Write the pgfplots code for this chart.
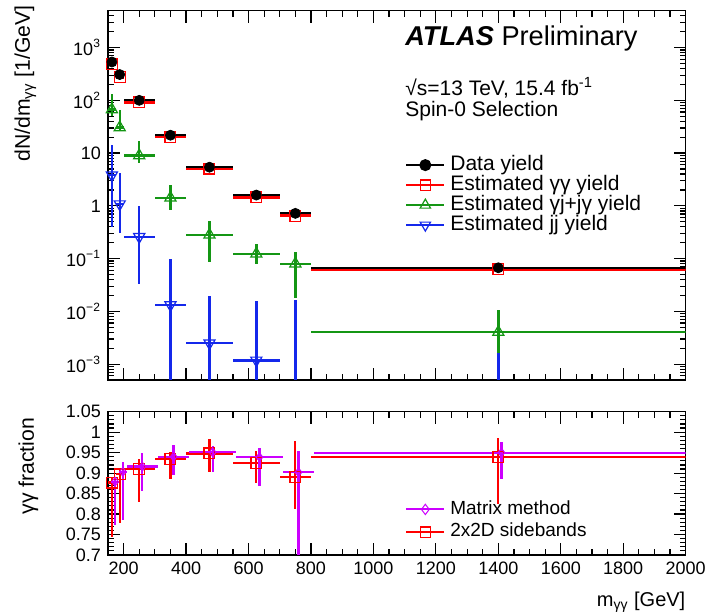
\documentclass[border=0pt]{standalone}
\usepackage{fontspec}
\setmainfont{Liberation Sans}
\usepackage{pgfplots}
\usepackage{pgfplotstable}
\pgfplotsset{compat=1.18}
\definecolor{rred}{RGB}{255,0,0}
\definecolor{rgreen}{RGB}{20,150,20}
\definecolor{rblue}{RGB}{20,40,235}
\definecolor{rmag}{RGB}{204,0,255}

% columns: bin centre, half width, value, error up, error down
\pgfplotstableread{
x ex y ep em
162.5 12.5 533 6 6
187.5 12.5 308 5 5
250 50 100 1.5 1.5
350 50 21.8 0.6 0.6
475 75 5.4 0.2 0.2
625 75 1.6 0.1 0.1
750 50 0.72 0.07 0.07
1400 600 0.067 0.006 0.006
}\datatab
\pgfplotstableread{
x ex y ep em
162.5 12.5 480 10 10
187.5 12.5 277 8 8
250 50 91 3 3
350 50 20.4 0.8 0.8
475 75 5.1 0.3 0.3
625 75 1.48 0.1 0.1
750 50 0.65 0.06 0.06
1400 600 0.063 0.006 0.006
}\gamgamtab
\pgfplotstableread{
x ex y ep em
162.5 12.5 67 63 17
187.5 12.5 30.5 34.5 4
250 50 9.0 8.0 2.5
350 50 1.42 1.05 0.59
475 75 0.282 0.238 0.197
625 75 0.123 0.065 0.0443
750 50 0.080 0.051 0.062
1400 600 0.00405 0.00655 0.00245
}\gamjtab
\pgfplotstableread{
x ex y ep em
162.5 12.5 3.8 10.7 3.4
187.5 12.5 1.08 3.12 0.78
250 50 0.259 0.741 0.2265
350 50 0.0132 0.0868 0.01319
475 75 0.0025 0.0172 0.00249
625 75 0.00118 0.01452 0.00117
750 50 0.00001 0.01639 0
1400 600 0.00001 0.00159 0
}\jjtab
\pgfplotstableread{
x ex y ep em
162.5 12.5 0.877 0.012 0.132
187.5 12.5 0.897 0.011 0.120
250 50 0.910 0.024 0.081
350 50 0.935 0.017 0.050
475 75 0.948 0.035 0.046
625 75 0.924 0.031 0.047
750 50 0.891 0.087 0.079
1400 600 0.940 0.046 0.115
}\sidetab
\pgfplotstableread{
x ex y ep em
172.5 12.5 0.879 0.012 0.106
197.5 12.5 0.903 0.023 0.118
260 50 0.916 0.032 0.059
360 50 0.940 0.029 0.045
485 75 0.951 0.015 0.048
635 75 0.939 0.022 0.071
760 50 0.902 0.053 0.300
1410 600 0.950 0.025 0.065
}\matrixtab

\pgfplotsset{
  rootaxis/.style={
    scale only axis,
    width=288.85pt,
    xmin=150, xmax=2000,
    xtick={200,400,...,2000},
    minor x tick num=3,
    tick align=inside,
    xtick pos=both, ytick pos=both,
    major tick length=6pt, minor tick length=3pt,
    axis line style={line width=0.8pt},
    every tick/.style={black, line width=0.6pt},
    tick label style={font=\fontsize{9}{9}\selectfont},
    label style={font=\fontsize{10.6}{10.6}\selectfont},
    legend image code/.code={\draw[mark repeat=2,mark phase=2] plot coordinates {(0pt,0pt)(9.5pt,0pt)(19pt,0pt)};},
  },
  binpts/.style={
    only marks,
    error bars/x dir=both, error bars/y dir=both,
    error bars/x explicit, error bars/y explicit,
    error bars/error mark=none,
  },
}

\begin{document}
\begin{tikzpicture}
\path[use as bounding box] (-54pt,-117pt) rectangle (300.5pt,190pt);

\begin{axis}[rootaxis,
  name=top, at={(0pt,0pt)}, anchor=south west,
  height=184.65pt,
  ymode=log, ymin=5e-4, ymax=5000,
  ytick={1e-3,1e-2,1e-1,1,10,100,1000},
  yticklabels={10\textsuperscript{−3},10\textsuperscript{−2},10\textsuperscript{−1},1,10,10\textsuperscript{2},10\textsuperscript{3}},
  minor ytick={6e-4,7e-4,8e-4,9e-4,2e-3,3e-3,4e-3,5e-3,6e-3,7e-3,8e-3,9e-3,
    2e-2,3e-2,4e-2,5e-2,6e-2,7e-2,8e-2,9e-2,0.2,0.3,0.4,0.5,0.6,0.7,0.8,0.9,
    2,3,4,5,6,7,8,9,20,30,40,50,60,70,80,90,200,300,400,500,600,700,800,900,2000,3000,4000,5000},
  xticklabels={},
  ylabel={dN/dm\textsubscript{γγ} [1/GeV]},
  ylabel style={at={(axis description cs:-0.143,1.015)}, anchor=east, inner sep=0pt},
  legend style={at={(axis description cs:0.514,0.610)}, anchor=north west,
    draw=none, fill=none, inner sep=0pt,
    font=\fontsize{10.5}{10.5}\selectfont,
    nodes={inner xsep=2.5pt, inner ysep=0.5pt, text height=7pt, text depth=2pt},
    cells={anchor=west}},
]
\addlegendimage{black, line width=1pt, mark=*, mark size=2.5pt}
\addlegendentry{Data yield}
\addlegendimage{rred, line width=1pt, mark=square, mark size=2.6pt, mark options={fill=white, line width=0.6pt}}
\addlegendentry{Estimated γγ yield}
\addlegendimage{rgreen, line width=1pt, mark=triangle, mark size=3pt, mark options={fill=white, line width=0.6pt}}
\addlegendentry{Estimated γj+jγ yield}
\addlegendimage{rblue, line width=1pt, mark=triangle, mark size=3pt, mark options={rotate=180, fill=white, line width=0.6pt}}
\addlegendentry{Estimated jj yield}

\addplot+[forget plot, rblue, binpts, mark=triangle, mark size=3.2pt,
  mark options={rotate=180, fill=white, line width=0.6pt},
  error bars/error bar style={rblue, line width=1.2pt}]
  table[x=x, y=y, x error=ex, y error plus=ep, y error minus=em] {\jjtab};
\addplot+[forget plot, rgreen, binpts, mark=triangle, mark size=3.2pt,
  mark options={fill=white, line width=0.6pt},
  error bars/error bar style={rgreen, line width=1.2pt}]
  table[x=x, y=y, x error=ex, y error plus=ep, y error minus=em] {\gamjtab};
\addplot+[forget plot, rred, binpts, mark=square, mark size=2.7pt,
  mark options={fill=white, line width=0.6pt},
  error bars/error bar style={rred, line width=1.7pt}]
  table[x=x, y=y, x error=ex, y error plus=ep, y error minus=em] {\gamgamtab};
\addplot+[forget plot, black, binpts, mark=*, mark size=2.5pt,
  mark options={fill=black},
  error bars/error bar style={black, line width=0.9pt}]
  table[x=x, y=y, x error=ex, y error plus=ep, y error minus=em] {\datatab};

\node[anchor=west, inner sep=0pt, font=\fontsize{13.6}{13.6}\selectfont]
  at (axis description cs:0.514,0.925) {\textbf{\textit{ATLAS}} Preliminary};
\node[anchor=west, inner sep=0pt, font=\fontsize{10.5}{10.5}\selectfont]
  at (axis description cs:0.514,0.792) {√s=13 TeV, 15.4 fb\textsuperscript{-1}};
\node[anchor=west, inner sep=0pt, font=\fontsize{10.5}{10.5}\selectfont]
  at (axis description cs:0.514,0.728) {Spin-0 Selection};
\end{axis}

\begin{axis}[rootaxis,
  name=bot, at={(0pt,-15.85pt)}, anchor=north west,
  height=71.65pt,
  ymin=0.7, ymax=1.05,
  ytick={0.7,0.75,0.8,0.85,0.9,0.95,1,1.05},
  yticklabels={0.7,0.75,0.8,0.85,0.9,0.95,1,1.05},
  minor y tick num=4,
  xticklabels={200,400,600,800,1000,1200,1400,1600,1800,2000},
  ylabel={γγ fraction},
  ylabel style={at={(axis description cs:-0.138,0.96)}, anchor=east, inner sep=0pt},
  xlabel={m\textsubscript{γγ} [GeV]},
  xlabel style={at={(axis description cs:1,0)}, anchor=north east, inner sep=0pt, yshift=-18.5pt, font=\fontsize{10}{10}\selectfont},
  legend style={at={(axis description cs:0.514,0.40)}, anchor=north west,
    draw=none, fill=none, inner sep=0pt,
    font=\fontsize{9.5}{9.5}\selectfont,
    nodes={inner xsep=2.5pt, inner ysep=0.5pt, text height=7.5pt, text depth=2.85pt},
    cells={anchor=west}},
]
\addlegendimage{rmag, line width=1pt, mark=diamond, mark size=2.6pt, mark options={fill=white, line width=0.5pt}}
\addlegendentry{Matrix method}
\addlegendimage{rred, line width=1pt, mark=square, mark size=2.6pt, mark options={fill=white, line width=0.6pt}}
\addlegendentry{2x2D sidebands}

\addplot+[forget plot, rred, binpts, mark=square, mark size=2.7pt,
  mark options={fill=white, line width=0.6pt},
  error bars/error bar style={rred, line width=1.1pt}]
  table[x=x, y=y, x error=ex, y error plus=ep, y error minus=em] {\sidetab};
\addplot+[forget plot, rmag, binpts, mark=diamond, mark size=2.2pt,
  mark options={fill=white, line width=0.5pt},
  error bars/error bar style={rmag, line width=1.1pt}]
  table[x=x, y=y, x error=ex, y error plus=ep, y error minus=em] {\matrixtab};
\end{axis}
\end{tikzpicture}
\end{document}
